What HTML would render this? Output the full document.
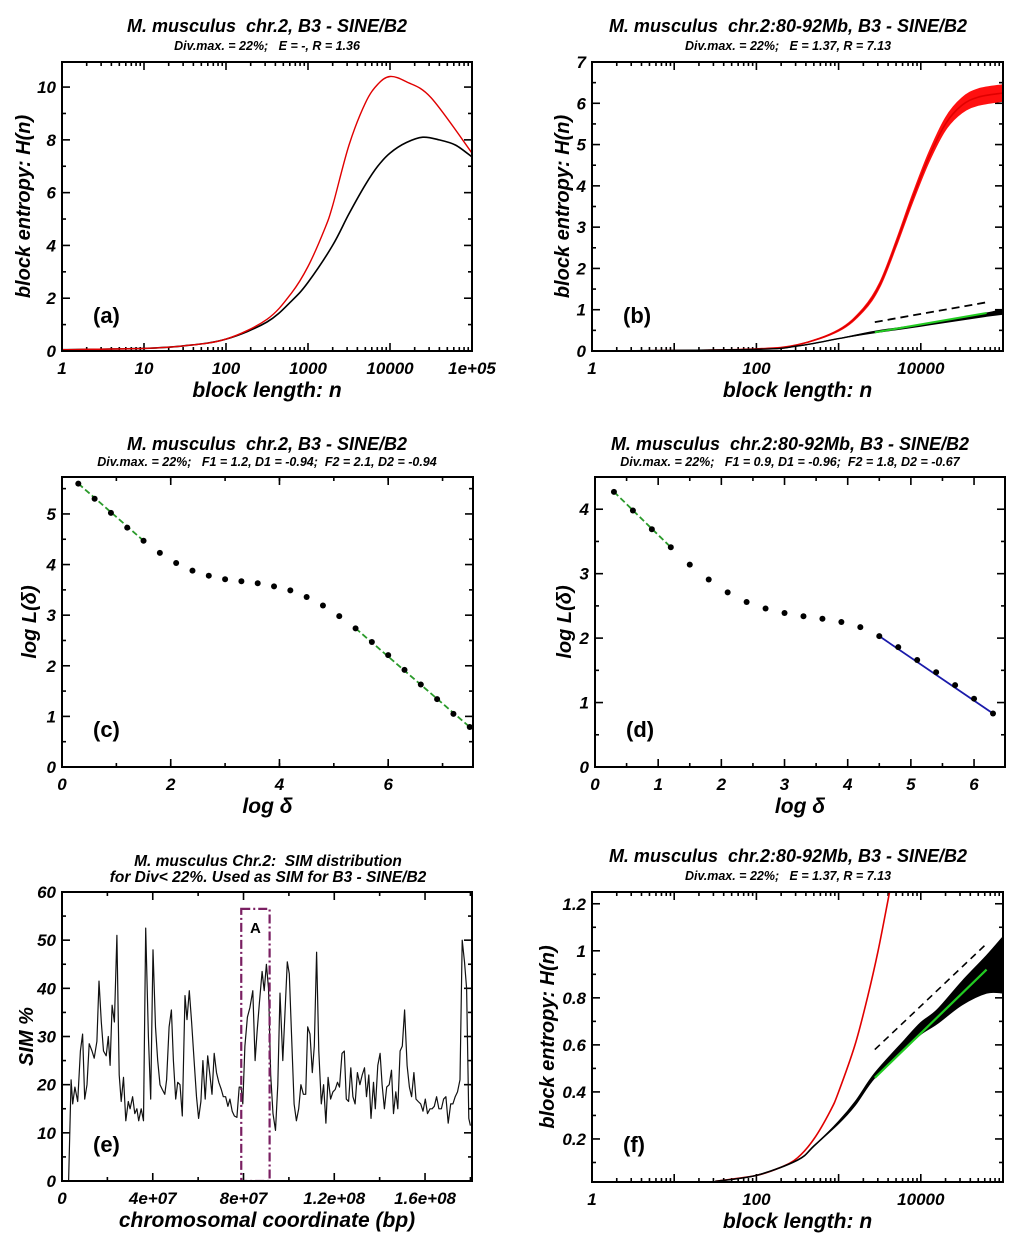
<!DOCTYPE html>
<html><head><meta charset="utf-8">
<style>
html,body{margin:0;padding:0;background:#fff;}
svg{display:block;font-family:"Liberation Sans",sans-serif;}
text{white-space:pre;}
.t{font-weight:bold;font-style:italic;}
</style></head>
<body>
<svg id="fig" width="1024" height="1236" viewBox="0 0 1024 1236" xmlns="http://www.w3.org/2000/svg" xml:space="preserve"></svg>
<script>
// ---------- DATA ----------
const aRedLogN = [0,1,1.5,2,2.5,2.8,3,3.2,3.3,3.5,3.7,3.85,4,4.2,4.5,5];
const aRedH    = [0.05,0.1,0.2,0.45,1.2,2.2,3.2,4.6,5.5,7.8,9.4,10.1,10.4,10.2,9.6,7.5];
const aBlkLogN = [0,1,1.5,2,2.5,2.8,3,3.3,3.5,3.7,3.85,4,4.2,4.4,4.6,4.8,5];
const aBlkH    = [0.05,0.1,0.2,0.45,1.1,1.9,2.6,4.0,5.2,6.3,7.0,7.5,7.9,8.1,8.0,7.8,7.35];
const bRedLogN = [0,1,2,2.5,3,3.3,3.5,3.7,3.9,4.1,4.3,4.5,4.7,5];
const bRedH    = [0,0.01,0.05,0.15,0.5,1.0,1.6,2.6,3.7,4.7,5.5,5.95,6.15,6.25];
const bRedSpread=[0,0,0,0,0.02,0.04,0.06,0.08,0.1,0.12,0.15,0.18,0.2,0.2];
const bBlkLogN = [0,2,2.5,3,3.44,4,4.5,4.8,5];
const bBlkH    = [0,0.04,0.12,0.3,0.46,0.62,0.78,0.88,0.95];
const bBlkSpread=[0,0,0,0,0.02,0.02,0.03,0.04,0.06];
const bDashLogN = [3.44,4.8];
const bDashH    = [0.7,1.18];
const bFitLogN  = [3.44,4.8];
const bFitH     = [0.45,0.92];
const cLogDelta = [0.3,0.6,0.9,1.2,1.5,1.8,2.1,2.4,2.7,3.0,3.3,3.6,3.9,4.2,4.5,4.8,5.1,5.4,5.7,6.0,6.3,6.6,6.9,7.2,7.5];
const cLogL     = [5.6,5.3,5.02,4.73,4.47,4.23,4.03,3.88,3.78,3.71,3.67,3.63,3.57,3.49,3.36,3.19,2.98,2.74,2.47,2.21,1.92,1.63,1.34,1.05,0.79];
const cFit1 = [0,4];
const cFit2 = [17,24];
const dLogDelta = [0.3,0.6,0.9,1.2,1.5,1.8,2.1,2.4,2.7,3.0,3.3,3.6,3.9,4.2,4.5,4.8,5.1,5.4,5.7,6.0,6.3];
const dLogL     = [4.27,3.98,3.69,3.41,3.14,2.91,2.71,2.56,2.46,2.39,2.34,2.30,2.25,2.17,2.03,1.86,1.66,1.47,1.27,1.06,0.83];
const dFit1 = [0,3];
const dFit2 = [14,20];
const eMb  = [2.9,4.0,4.7,5.7,6.9,8.1,9.1,10.0,11.0,12.0,13.2,14.2,15.4,16.3,17.3,18.3,19.5,20.4,21.2,22.1,23.1,24.2,25.2,26.1,27.1,28.1,29.2,30.0,31.1,32.1,33.0,33.8,34.9,35.9,36.9,38.1,39.1,40.1,41.2,42.2,43.2,44.2,45.3,46.1,47.2,48.2,49.1,50.1,51.0,52.0,53.0,54.2,55.1,56.1,57.1,58.2,59.3,60.2,61.2,62.1,63.1,64.2,65.2,66.1,67.1,68.1,69.1,70.2,71.1,72.1,73.1,74.0,75.0,76.0,77.1,78.1,79.0,79.7,80.6,81.7,82.8,84.1,85.1,86.0,87.0,88.2,89.1,90.1,91.0,92.0,93.0,94.1,95.1,96.1,97.3,98.3,99.3,100.2,101.2,102.3,103.3,104.3,105.3,106.4,107.4,108.3,109.3,110.3,111.2,112.2,113.2,114.3,115.3,116.3,117.3,118.4,119.4,120.4,121.4,122.3,123.4,124.4,125.3,126.3,127.3,128.2,129.2,130.2,131.3,132.3,133.3,134.2,135.2,136.2,137.3,138.1,139.2,140.2,141.1,142.1,143.1,144.2,145.2,146.1,147.1,148.0,149.0,150.0,151.0,152.1,153.1,154.1,155.1,156.0,157.0,158.1,159.1,160.1,161.1,162.2,163.1,164.1,165.1,166.1,167.2,168.2,169.2,170.2,171.3,172.3,173.3,174.3,175.4,176.4,177.4,178.3,179.3,180.0];
const eSim = [0,21,16,19.5,16.5,27,30.5,17,20,28.5,27,25.5,29,41.5,33,27,26,30,24,36.5,33,51,22,16.5,21.5,12.5,16.5,15,17.5,14,15,12.5,15,12.5,52.5,30,17,48,32,25,20,19,18,21,32,35.5,25,17,20.5,20,13.5,38.5,33.5,39.5,33,25,17.5,13,16.5,25,17,26,22,18,26.5,22.5,20.5,19,17.5,17.5,15.5,17,14.5,13.5,13.2,19.5,19.5,16,28,34,36,39.5,25,31,37,43.5,39.5,45,40,22,14,10.5,20,39,25,35,45.5,43,30,16,12.5,15,20,18,18,32,30.5,22.5,28,47.5,27,16,20,12,21.5,17,18.5,19,20.5,19.5,26.5,27,17,16.5,23.5,17.5,16,22.5,20,22,23.5,17.5,22,13,20.5,15,24,26.5,20,15,19.5,20,23,14,18.5,15,27,28,35.5,24,19.5,17.5,22.5,17,16.5,16,14.5,17,14,15,15,15.5,17.5,15,15,17,17.5,12,16,16,17.5,18.5,21,50,45.5,40,13,11.5];
const eBoxMb = [79,91.5];
const eBoxSim = [0,56.5];
const fRedLogN = [1.5,2,2.3,2.5,2.7,2.9,3.0,3.2,3.35,3.48,3.62];
const fRedH    = [0.02,0.045,0.08,0.12,0.2,0.32,0.4,0.6,0.8,1.0,1.25];
const fBlkLogN = [1.5,2,2.5,2.7,3,3.2,3.44,3.8,4.0,4.2,4.5,4.8,5];
const fBlkH    = [0.02,0.045,0.11,0.17,0.27,0.35,0.47,0.6,0.67,0.72,0.82,0.9,0.94];
const fBlkSpread=[0,0,0,0,0.005,0.008,0.01,0.02,0.025,0.03,0.05,0.08,0.12];
const fDashLogN = [3.44,4.8];
const fDashH    = [0.58,1.03];
const fFitLogN  = [3.44,4.8];
const fFitH     = [0.46,0.92];

// ---------- DRAWING ----------
const NS="http://www.w3.org/2000/svg";
const svg=document.getElementById('fig');
function mk(tag,attrs,parent){const e=document.createElementNS(NS,tag);for(const k in attrs)e.setAttribute(k,attrs[k]);(parent||svg).appendChild(e);return e;}
function txt(s,x,y,size,anchor,parent,extra){const e=mk('text',Object.assign({x:x,y:y,'font-size':size,'text-anchor':anchor||'middle','class':'t'},extra||{}),parent);e.textContent=s;return e;}
function makeScale(d0,d1,r0,r1){return v=>r0+(v-d0)/(d1-d0)*(r1-r0);}
function smoothPath(pts){
  if(pts.length<3)return 'M'+pts.map(p=>p[0].toFixed(1)+','+p[1].toFixed(1)).join('L');
  let d='M'+pts[0][0].toFixed(1)+','+pts[0][1].toFixed(1);
  for(let i=0;i<pts.length-1;i++){
    const p0=pts[Math.max(0,i-1)],p1=pts[i],p2=pts[i+1],p3=pts[Math.min(pts.length-1,i+2)];
    const c1=[p1[0]+(p2[0]-p0[0])/6,p1[1]+(p2[1]-p0[1])/6];
    const c2=[p2[0]-(p3[0]-p1[0])/6,p2[1]-(p3[1]-p1[1])/6];
    d+='C'+c1[0].toFixed(1)+','+c1[1].toFixed(1)+' '+c2[0].toFixed(1)+','+c2[1].toFixed(1)+' '+p2[0].toFixed(1)+','+p2[1].toFixed(1);
  }
  return d;
}
function panel(c){
  const g=mk('g',{});
  
  
  const X=makeScale(c.x0,c.x1,c.L,c.R), Y=makeScale(c.y0,c.y1,c.B,c.T);
  const tg=mk('g',{stroke:'#000','stroke-width':1.6},g);
  
  
  function vt(px,len){mk('line',{x1:px,y1:c.B,x2:px,y2:c.B-len},tg);mk('line',{x1:px,y1:c.T,x2:px,y2:c.T+len},tg);}
  function ht(py,len){mk('line',{x1:c.L,y1:py,x2:c.L+len,y2:py},tg);mk('line',{x1:c.R,y1:py,x2:c.R-len,y2:py},tg);}
  c.xMajor.forEach(v=>vt(X(v),8));
  c.xMinor.forEach(v=>vt(X(v),4));
  c.yMajor.forEach(v=>ht(Y(v),8));
  c.yMinor.forEach(v=>ht(Y(v),4));
  c.xLabels.forEach((s,i)=>{const t=txt(s,X(c.xLabelVals[i]),c.B+23,17,'middle',g);});
  c.yLabels.forEach((s,i)=>{const t=txt(s,c.L-6,Y(c.yLabelVals[i])+6,17,'end',g);});
  const cx=(c.L+c.R)/2;
  c.titles.forEach(tt=>{const t=txt(tt[0],tt[1],tt[2],tt[3],'middle',g);});
  const xt=txt(c.xTitle,cx,c.B+46,21,'middle',g);
  
  const ym=(c.T+c.B)/2;
  const yt=txt(c.yTitle,c.yTitleX,ym,20,'middle',g,{transform:'rotate(-90 '+c.yTitleX+' '+ym+')'});
  
  const pl=mk('text',{x:c.L+31,y:c.panelY,'font-size':22,'font-weight':'bold'},g);
  pl.textContent=c.label;
  
  const cid='clip-'+c.name;
  const cp=mk('clipPath',{id:cid},g);mk('rect',{x:c.L,y:c.T,width:c.R-c.L,height:c.B-c.T},cp);
  const pg=mk('g',{'clip-path':'url(#'+cid+')'},g);
  
  c.draw(pg,X,Y);
  const box=mk('rect',{x:c.L,y:c.T,width:c.R-c.L,height:c.B-c.T,fill:'none',stroke:'#000','stroke-width':2},g);
  
}
function logMinors(d0,d1){const r=[];for(let d=d0;d<d1;d++)for(let k=2;k<10;k++)r.push(d+Math.log10(k));return r;}
function range(a,b,s){const r=[];for(let v=a;v<=b+1e-9;v+=s)r.push(+v.toFixed(6));return r;}
function curve(pg,X,Y,xs,ys,color,w,name,dash){
  const p=mk('path',{d:smoothPath(xs.map((x,i)=>[X(x),Y(ys[i])])),fill:'none',stroke:color,'stroke-width':w,'stroke-linejoin':'round'},pg);
  if(dash)p.setAttribute('stroke-dasharray',dash);
  
  return p;
}
function band(pg,X,Y,xs,ys,sp,color,name){
  const up=xs.map((x,i)=>[X(x),Y(ys[i]+sp[i])]);
  const lo=xs.map((x,i)=>[X(x),Y(ys[i]-sp[i])]).reverse();
  const d=smoothPath(up)+'L'+smoothPath(lo).slice(1)+'Z';
  const p=mk('path',{d:d,fill:color,stroke:color,'stroke-width':1},pg);
  
}
function dots(pg,X,Y,xs,ys,name){
  xs.forEach((x,i)=>{const c=mk('circle',{cx:X(x),cy:Y(ys[i]),r:3,fill:'#000'},pg);});
}
function fitLine(pg,X,Y,xs,ys,rng,color,dash,name){
  const l=mk('line',{x1:X(xs[rng[0]]),y1:Y(ys[rng[0]]),x2:X(xs[rng[1]]),y2:Y(ys[rng[1]]),stroke:color,'stroke-width':1.8},pg);
  if(dash)l.setAttribute('stroke-dasharray',dash);
  
}
const subT='Div.max. = 22%;   E = 1.37, R = 7.13';
panel({name:'panel-a',L:62,R:472,T:62,B:351,x0:0,x1:5,y0:0,y1:10.95,
  xMajor:range(0,5,1),xMinor:logMinors(0,5),yMajor:range(0,10,2),yMinor:range(1,9,2),
  xLabels:['1','10','100','1000','10000','1e+05'],xLabelVals:[0,1,2,3,4,5],
  yLabels:['0','2','4','6','8','10'],yLabelVals:[0,2,4,6,8,10],
  titles:[['M. musculus  chr.2, B3 - SINE/B2',267,32,18,'chart-title'],['Div.max. = 22%;   E = -, R = 1.36',267,50,12.5,'chart-subtitle']],
  xTitle:'block length: n',yTitle:'block entropy: H(n)',yTitleX:30,label:'(a)',panelY:323,
  draw:(pg,X,Y)=>{curve(pg,X,Y,aBlkLogN,aBlkH,'#000',1.6,'series-black');curve(pg,X,Y,aRedLogN,aRedH,'#e00000',1.4,'series-red');}});
panel({name:'panel-b',L:592,R:1003,T:62,B:351,x0:0,x1:5,y0:0,y1:7,
  xMajor:range(0,5,1),xMinor:logMinors(0,5),yMajor:range(0,7,1),yMinor:range(0.5,6.5,1),
  xLabels:['1','100','10000'],xLabelVals:[0,2,4],
  yLabels:['0','1','2','3','4','5','6','7'],yLabelVals:[0,1,2,3,4,5,6,7],
  titles:[['M. musculus  chr.2:80-92Mb, B3 - SINE/B2',788,32,18,'chart-title'],[subT,788,50,12.5,'chart-subtitle']],
  xTitle:'block length: n',yTitle:'block entropy: H(n)',yTitleX:569,label:'(b)',panelY:323,
  draw:(pg,X,Y)=>{band(pg,X,Y,bRedLogN,bRedH,bRedSpread,'#ff1010','series-red-noise');curve(pg,X,Y,bRedLogN,bRedH,'#e00000',1.6,'series-red');
    band(pg,X,Y,bBlkLogN,bBlkH,bBlkSpread,'#000','series-black-noise');curve(pg,X,Y,bBlkLogN,bBlkH,'#000',1.4,'series-black');
    curve(pg,X,Y,bDashLogN,bDashH,'#000',1.8,'reference-dashed-line','8,5');curve(pg,X,Y,bFitLogN,bFitH,'#22cc22',2,'fit-line-green');}});
panel({name:'panel-c',L:62,R:473,T:477,B:767,x0:0,x1:7.56,y0:0,y1:5.73,
  xMajor:range(0,6,2),xMinor:range(1,7,1),yMajor:range(0,5,1),yMinor:range(0.5,5.5,1),
  xLabels:['0','2','4','6'],xLabelVals:[0,2,4,6],
  yLabels:['0','1','2','3','4','5'],yLabelVals:[0,1,2,3,4,5],
  titles:[['M. musculus  chr.2, B3 - SINE/B2',267,450,18,'chart-title'],['Div.max. = 22%;   F1 = 1.2, D1 = -0.94;  F2 = 2.1, D2 = -0.94',267,466,12.5,'chart-subtitle']],
  xTitle:'log δ',yTitle:'log L(δ)',yTitleX:36,label:'(c)',panelY:737,
  draw:(pg,X,Y)=>{fitLine(pg,X,Y,cLogDelta,cLogL,cFit1,'#2a9a2a','6,3','fit-line-1');fitLine(pg,X,Y,cLogDelta,cLogL,cFit2,'#2a9a2a','6,3','fit-line-2');dots(pg,X,Y,cLogDelta,cLogL,'data-point');}});
panel({name:'panel-d',L:595,R:1005,T:477,B:767,x0:0,x1:6.49,y0:0,y1:4.5,
  xMajor:range(0,6,1),xMinor:range(0.5,6,1),yMajor:range(0,4,1),yMinor:range(0.5,4,1),
  xLabels:['0','1','2','3','4','5','6'],xLabelVals:[0,1,2,3,4,5,6],
  yLabels:['0','1','2','3','4'],yLabelVals:[0,1,2,3,4],
  titles:[['M. musculus  chr.2:80-92Mb, B3 - SINE/B2',790,450,18,'chart-title'],['Div.max. = 22%;   F1 = 0.9, D1 = -0.96;  F2 = 1.8, D2 = -0.67',790,466,12.5,'chart-subtitle']],
  xTitle:'log δ',yTitle:'log L(δ)',yTitleX:571,label:'(d)',panelY:737,
  draw:(pg,X,Y)=>{fitLine(pg,X,Y,dLogDelta,dLogL,dFit1,'#2a9a2a','6,3','fit-line-1');fitLine(pg,X,Y,dLogDelta,dLogL,dFit2,'#1a1aaa',null,'fit-line-2');dots(pg,X,Y,dLogDelta,dLogL,'data-point');}});
panel({name:'panel-e',L:62,R:472,T:892,B:1181,x0:0,x1:180.7,y0:0,y1:60,
  xMajor:range(0,160,40),xMinor:range(20,180,40),yMajor:range(0,60,10),yMinor:range(5,55,10),
  xLabels:['0','4e+07','8e+07','1.2e+08','1.6e+08'],xLabelVals:[0,40,80,120,160],
  yLabels:['0','10','20','30','40','50','60'],yLabelVals:[0,10,20,30,40,50,60],
  titles:[['M. musculus Chr.2:  SIM distribution',268,866,15.5,'chart-title'],['for Div< 22%. Used as SIM for B3 - SINE/B2',268,882,15.5,'chart-title-line2']],
  xTitle:'chromosomal coordinate (bp)',yTitle:'SIM %',yTitleX:33,label:'(e)',panelY:1152,
  draw:(pg,X,Y)=>{
    const p=mk('polyline',{points:eMb.map((x,i)=>X(x).toFixed(1)+','+Y(eSim[i]).toFixed(1)).join(' '),fill:'none',stroke:'#111','stroke-width':1.2,'stroke-linejoin':'round'},pg);
    
    const r=mk('rect',{x:X(eBoxMb[0]),y:Y(eBoxSim[1]),width:X(eBoxMb[1])-X(eBoxMb[0]),height:Y(eBoxSim[0])-Y(eBoxSim[1]),fill:'none',stroke:'#7a1f62','stroke-width':2.2,'stroke-dasharray':'9,3,2,3'},pg);
    
    const a=mk('text',{x:(X(eBoxMb[0])+X(eBoxMb[1]))/2,y:Y(eBoxSim[1])+24,'font-size':15,'font-weight':'bold','text-anchor':'middle'},pg);
    a.textContent='A';
  }});
panel({name:'panel-f',L:592,R:1003,T:892,B:1182,x0:0,x1:5,y0:0.017,y1:1.25,
  xMajor:range(0,5,1),xMinor:logMinors(0,5),yMajor:range(0.2,1.2,0.2),yMinor:range(0.1,1.1,0.2),
  xLabels:['1','100','10000'],xLabelVals:[0,2,4],
  yLabels:['0.2','0.4','0.6','0.8','1','1.2'],yLabelVals:[0.2,0.4,0.6,0.8,1.0,1.2],
  titles:[['M. musculus  chr.2:80-92Mb, B3 - SINE/B2',788,862,18,'chart-title'],[subT,788,880,12.5,'chart-subtitle']],
  xTitle:'block length: n',yTitle:'block entropy: H(n)',yTitleX:554,label:'(f)',panelY:1152,
  draw:(pg,X,Y)=>{curve(pg,X,Y,fRedLogN,fRedH,'#e00000',1.6,'series-red');
    band(pg,X,Y,fBlkLogN,fBlkH,fBlkSpread,'#000','series-black-noise');curve(pg,X,Y,fBlkLogN,fBlkH,'#000',1.6,'series-black');
    curve(pg,X,Y,fDashLogN,fDashH,'#000',1.6,'reference-dashed-line','7,5');curve(pg,X,Y,fFitLogN,fFitH,'#22cc22',2.2,'fit-line-green');}});
</script>
</body></html>
